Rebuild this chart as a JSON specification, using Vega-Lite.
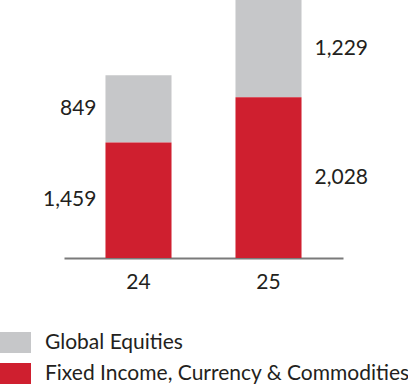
{
  "$schema": "https://vega.github.io/schema/vega-lite/v6.json",
  "width": 279,
  "height": 258,
  "autosize": {"type": "none"},
  "padding": {"left": 64, "top": 0, "right": 65, "bottom": 130},
  "background": "white",
  "config": {"view": {"stroke": null}, "font": "Lato"},
  "data": {
    "values": [
      {"year": "24", "series": "Global Equities", "value": 849},
      {"year": "24", "series": "Fixed Income, Currency & Commodities", "value": 1459},
      {"year": "25", "series": "Global Equities", "value": 1229},
      {"year": "25", "series": "Fixed Income, Currency & Commodities", "value": 2028}
    ]
  },
  "layer": [
    {
      "mark": {"type": "bar"},
      "encoding": {
        "x": {
          "field": "year", "type": "ordinal",
          "scale": {"paddingInner": 0.492, "paddingOuter": 0.319},
          "axis": {"title": null, "ticks": false, "tickSize": 0, "labelAngle": 0, "labelPadding": 13, "labelFontSize": 21, "labelColor": "#231f20", "domainColor": "#7a7a7a", "domainWidth": 2, "grid": false}
        },
        "y": {"field": "value", "type": "quantitative", "stack": "zero", "scale": {"domain": [0, 3257], "nice": false}, "axis": null},
        "color": {
          "field": "series", "type": "nominal",
          "scale": {"domain": ["Global Equities", "Fixed Income, Currency & Commodities"], "range": ["#c6c7c9", "#cf1f2f"]},
          "legend": {"orient": "none", "legendX": -64, "legendY": 327, "title": null, "symbolType": "M-1,-0.677H1V0.677H-1Z", "symbolSize": 961, "symbolStrokeWidth": 0, "symbolOpacity": 1, "labelFontSize": 21, "labelColor": "#231f20", "labelOffset": 14, "labelLimit": 0, "rowPadding": 5, "padding": 0}
        },
        "order": {"field": "series", "sort": "ascending"}
      }
    },
    {
      "transform": [
        {"stack": "value", "groupby": ["year"], "sort": [{"field": "series", "order": "ascending"}], "as": ["v0", "v1"]},
        {"filter": {"field": "year", "equal": "24"}},
        {"fold": ["v0", "v1"], "as": ["k", "pos"]}
      ],
      "mark": {"type": "text", "align": "right", "dx": -42, "fontSize": 21, "color": "#231f20"},
      "encoding": {
        "x": {"field": "year", "type": "ordinal"},
        "y": {"aggregate": "mean", "field": "pos", "type": "quantitative"},
        "detail": {"field": "series"},
        "text": {"aggregate": "max", "field": "value", "format": ","}
      }
    },
    {
      "transform": [
        {"stack": "value", "groupby": ["year"], "sort": [{"field": "series", "order": "ascending"}], "as": ["v0", "v1"]},
        {"filter": {"field": "year", "equal": "25"}},
        {"fold": ["v0", "v1"], "as": ["k", "pos"]}
      ],
      "mark": {"type": "text", "align": "left", "dx": 46, "fontSize": 21, "color": "#231f20"},
      "encoding": {
        "x": {"field": "year", "type": "ordinal"},
        "y": {"aggregate": "mean", "field": "pos", "type": "quantitative"},
        "detail": {"field": "series"},
        "text": {"aggregate": "max", "field": "value", "format": ","}
      }
    }
  ]
}
